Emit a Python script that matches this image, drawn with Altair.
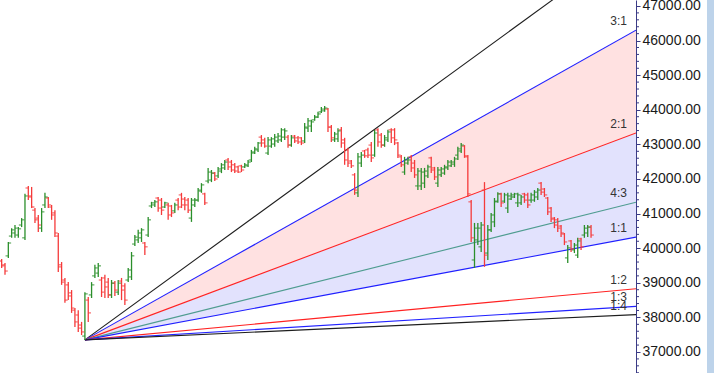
import altair as alt
import pandas as pd

# ---------------- data (prices) ----------------
high = [39690, 39570, 40180, 40580, 40670, 40610, 40870, 41570, 41800, 41770,
        41160, 40960, 41160, 41600, 41480, 41250, 41100, 40440, 39600, 39140,
        39020, 38790, 38270, 38210, 37870, 38730, 38590, 39020, 39520, 39570,
        39170, 39230, 39140, 39080, 39050, 39080, 39140, 38990, 39430, 39890,
        40380, 40530, 40580, 40180, 40900, 41340, 41390, 41480, 41450, 41340,
        41310, 41250, 41310, 41450, 41600, 41480, 41450, 41450, 41450, 41740,
        41880, 41600, 42320, 42260, 42200, 42350, 42460, 42550, 42610, 42550,
        42460, 42380, 42410, 42460, 42550, 42840, 42930, 43070, 43270, 43190,
        43210, 43210, 43300, 43330, 43470, 43470, 43270, 43270, 43270, 43240,
        43210, 43620, 43760, 43710, 43850, 43940, 44080, 44110, 44050, 43560,
        43360, 43470, 43500, 43190, 42900, 42550, 42170, 42750, 42780, 42840,
        42900, 43070, 43420, 43470, 43330, 43270, 43420, 43470, 43470, 43070,
        42690, 42640, 42640, 42690, 42550, 42320, 42320, 42320, 42410, 42640,
        42350, 42350, 42350, 42410, 42550, 42550, 42640, 42930, 43040, 42980,
        42690, 41390, 40730, 40730, 40760, 41910, 40670, 41020, 41450, 41620,
        41600, 41600, 41600, 41600, 41600, 41600, 41540, 41600, 41600, 41600,
        41680, 41740, 41910, 41740, 41480, 41190, 40900, 40870, 40670, 40440,
        40090, 40240, 40150, 40300, 40300, 40670, 40670, 40670]
low = [39430, 39230, 39720, 40300, 40300, 40300, 40610, 40240, 41390, 41160,
       40730, 40470, 40470, 41160, 41160, 40820, 40320, 39310, 38940, 38420,
       38500, 38130, 37720, 37580, 37490, 37350, 37870, 38560, 39140, 39170,
       38590, 38560, 38560, 38560, 38620, 38650, 38500, 38360, 39020, 39080,
       40060, 40150, 40180, 39800, 40320, 41160, 41190, 41050, 40960, 41160,
       40820, 40900, 41020, 41100, 41160, 41100, 41020, 40760, 41190, 41340,
       41600, 41250, 41880, 41910, 41940, 42030, 42170, 42260, 42260, 42200,
       42170, 42170, 42200, 42320, 42350, 42490, 42720, 42780, 42930, 42900,
       42690, 42900, 42930, 43040, 43070, 43130, 42900, 42930, 43040, 43010,
       42980, 43040, 43360, 43360, 43680, 43760, 43910, 43940, 43360, 43070,
       43070, 43070, 42900, 42410, 42350, 42320, 41540, 41480, 42350, 42610,
       42610, 42490, 42640, 42930, 42900, 42930, 43070, 43040, 42980, 42610,
       42350, 42120, 42410, 42200, 42030, 41680, 41680, 41740, 42030, 42170,
       41970, 41770, 42060, 42120, 42260, 42350, 42350, 42550, 42750, 42610,
       41480, 40180, 39430, 40090, 39890, 39460, 39660, 40470, 40610, 41310,
       41190, 41310, 41020, 41390, 41450, 41190, 41250, 41310, 41160, 41310,
       41340, 41390, 41540, 41480, 40960, 40760, 40580, 40470, 40320, 40090,
       39570, 39890, 39860, 39720, 39950, 40300, 40320, 40300]
open_ = [39630, 39520, 39780, 40350, 40440, 40380, 40670, 40300, 41740, 41480,
         41100, 40870, 40580, 41250, 41450, 41190, 41020, 40350, 39520, 39080,
         38940, 38710, 38210, 38070, 37780, 37460, 38500, 38650, 39200, 39280,
         39080, 39140, 39020, 38650, 38990, 38730, 39050, 38910, 39080, 39170,
         40120, 40240, 40300, 40150, 40380, 41220, 41250, 41450, 41390, 41190,
         41250, 41220, 41080, 41390, 41540, 41420, 41390, 40870, 41250, 41390,
         41650, 41570, 41940, 41970, 42170, 42090, 42230, 42320, 42550, 42490,
         42410, 42350, 42380, 42350, 42380, 42550, 42750, 42840, 43210, 43130,
         42750, 42950, 43010, 43100, 43130, 43210, 43210, 42980, 43240, 43190,
         43190, 43100, 43470, 43530, 43710, 43790, 43940, 43970, 44020, 43500,
         43130, 43160, 43420, 43130, 42840, 42520, 42120, 41600, 42460, 42810,
         42840, 42980, 42690, 43420, 43270, 42980, 43130, 43420, 43420, 43040,
         42640, 42200, 42460, 42640, 42460, 41800, 41800, 41880, 42090, 42610,
         42320, 41880, 42120, 42170, 42320, 42380, 42430, 42690, 42810, 42950,
         42640, 41340, 39660, 40240, 40040, 41680, 39860, 40530, 40760, 41360,
         41570, 41360, 41160, 41420, 41480, 41310, 41310, 41570, 41540, 41390,
         41390, 41480, 41880, 41710, 41450, 41160, 40870, 40820, 40640, 40410,
         39720, 40210, 39950, 39800, 40270, 40380, 40440, 40610]
close = [39490, 39340, 40150, 40530, 40580, 40560, 40820, 41510, 41510, 41190,
         40820, 40670, 41050, 41480, 41250, 40960, 40440, 39460, 39020, 38500,
         38620, 38270, 37870, 37690, 37580, 38680, 38130, 38940, 39430, 39490,
         38730, 38880, 38650, 38990, 38790, 38990, 38790, 38500, 39370, 39780,
         40320, 40440, 40530, 40040, 40820, 41310, 41340, 41160, 41100, 41310,
         40960, 41020, 41250, 41190, 41250, 41250, 41100, 41390, 41390, 41680,
         41830, 41310, 42200, 42170, 42000, 42290, 42410, 42490, 42350, 42260,
         42230, 42200, 42260, 42410, 42490, 42780, 42870, 43040, 43040, 42950,
         43130, 43160, 43210, 43240, 43420, 43390, 42980, 43190, 43100, 43070,
         43040, 43500, 43680, 43650, 43790, 43880, 44020, 44050, 43500, 43190,
         43300, 43390, 43040, 42550, 42460, 42380, 41680, 42640, 42690, 42670,
         42690, 42610, 43330, 43070, 42980, 43190, 43360, 43190, 43130, 42690,
         42410, 42550, 42550, 42320, 42120, 42230, 42200, 42230, 42350, 42260,
         42060, 42260, 42290, 42350, 42490, 42490, 42580, 42870, 42980, 42670,
         41570, 40300, 40580, 40580, 40670, 39800, 40530, 40960, 41340, 41570,
         41310, 41540, 41510, 41540, 41570, 41540, 41480, 41390, 41250, 41540,
         41620, 41680, 41620, 41540, 41050, 40840, 40670, 40580, 40440, 40180,
         40010, 39980, 40090, 40210, 40040, 40580, 40610, 40380]

# Gann fan: pivot bar / pivot low, and where each line meets the right edge
fan_names = ["4:1", "3:1", "2:1", "4:3", "1:1", "1:2", "1:3", "1:4"]
fan_labels = ["", "3:1", "2:1", "4:3", "1:1", "1:2", "1:3", "1:4"]
fan_end_price = [48930, 46300, 43330, 41330, 40320, 38830, 38320, 38080]
fan_colors = ["#1e1e1e", "#2222ff", "#ff2222", "#4f9c90", "#1f1fff",
              "#ff2222", "#2222ff", "#1e1e1e"]
pivot_bar = 25
pivot_price = 37350
right_edge = 190.5

y_ticks = list(range(37000, 47001, 1000))
minor_ticks = [v for v in range(36400, 47201, 200) if v % 1000 != 0]

# ---------------- tables ----------------
n = len(high)
bars = pd.DataFrame({
    "i": list(range(n)), "high": high, "low": low,
    "open": open_, "close": close,
})
bars["dir"] = ["up" if c >= o else "down" for o, c in zip(open_, close)]

fan_rows = []
for name, end, col in zip(fan_names, fan_end_price, fan_colors):
    fan_rows.append({"name": name, "i": pivot_bar, "p": pivot_price, "col": col})
    fan_rows.append({"name": name, "i": right_edge, "p": end, "col": col})
fan = pd.DataFrame(fan_rows)

p31 = fan_end_price[1]
p21 = fan_end_price[2]
p11 = fan_end_price[4]
zone_pink = pd.DataFrame({"i": [pivot_bar, right_edge],
                          "top": [pivot_price, p31], "bot": [pivot_price, p21]})
zone_lav = pd.DataFrame({"i": [pivot_bar, right_edge],
                         "top": [pivot_price, p21], "bot": [pivot_price, p11]})

lab = pd.DataFrame({"i": [right_edge] * 7, "p": fan_end_price[1:],
                    "t": fan_labels[1:]})
minor = pd.DataFrame({"v": minor_ticks})

# ---------------- scales ----------------
AX = "#3b3b86"
xs = alt.Scale(domain=[-0.5, right_edge], nice=False, zero=False)
ys = alt.Scale(domain=[36393, 47173], nice=False, zero=False)
X = alt.X("i:Q", scale=xs, axis=None)
bar_color = alt.Color("dir:N", scale=alt.Scale(domain=["up", "down"],
                      range=["#2b8f2b", "#f53a3a"]), legend=None)

y_axis = alt.Axis(orient="right", values=y_ticks, format=".2f", grid=False,
                  tickSize=4, tickColor=AX, domainColor=AX, domainWidth=1,
                  labelPadding=2, labelFont="Liberation Sans", labelFontSize=14,
                  labelColor="#1a1a1a", labelOverlap=False, labelFlush=False,
                  labelSeparation=0, labelBound=False, title=None)

def Y(field):
    return alt.Y(field, scale=ys, axis=y_axis)

pink = alt.Chart(zone_pink).mark_area(color="#ffe1e1", clip=True).encode(
    x=X, y=Y("top:Q"), y2="bot:Q")
lav = alt.Chart(zone_lav).mark_area(color="#e2e2fd", clip=True).encode(
    x=X, y=Y("top:Q"), y2="bot:Q")

lines = alt.Chart(fan).mark_line(strokeWidth=1.1, clip=True).encode(
    x=X, y=Y("p:Q"), detail="name:N",
    color=alt.Color("col:N", scale=None))

hl = alt.Chart(bars).mark_rule(strokeWidth=1.3, clip=True).encode(
    x=X, y=Y("low:Q"), y2="high:Q", color=bar_color)
op = alt.Chart(bars).mark_tick(orient="horizontal", size=2.8, thickness=1.3,
                               xOffset=-1.4, clip=True).encode(
    x=X, y=Y("open:Q"), color=bar_color)
cl = alt.Chart(bars).mark_tick(orient="horizontal", size=2.8, thickness=1.3,
                               xOffset=1.4, clip=True).encode(
    x=X, y=Y("close:Q"), color=bar_color)

labels = alt.Chart(lab).mark_text(align="right", baseline="bottom", dx=-9, dy=-2,
                                  font="Liberation Sans", fontSize=12,
                                  color="#333333").encode(
    x=X, y=Y("p:Q"), text="t:N")

minor_marks = alt.Chart(minor).mark_rule(color=AX, strokeWidth=1, clip=False).encode(
    x=alt.value(636), x2=alt.value(639), y=Y("v:Q"))

strip = alt.Chart(minor).mark_rect(color="#bdd3ea", clip=False).encode(
    x=alt.value(707), x2=alt.value(714), y=alt.value(0), y2=alt.value(373))

chart = alt.layer(pink, lav, lines, hl, op, cl, labels,
                  minor_marks, strip).properties(
    width=636, height=373,
    autosize=alt.AutoSizeParams(type="none"),
    padding={"left": 0, "top": 0, "right": 78, "bottom": 0},
    background="white",
).configure_view(stroke=None).configure_axis(labelOverlap=False)

chart.save("out.html", embed_options={"renderer": "svg", "actions": False})
